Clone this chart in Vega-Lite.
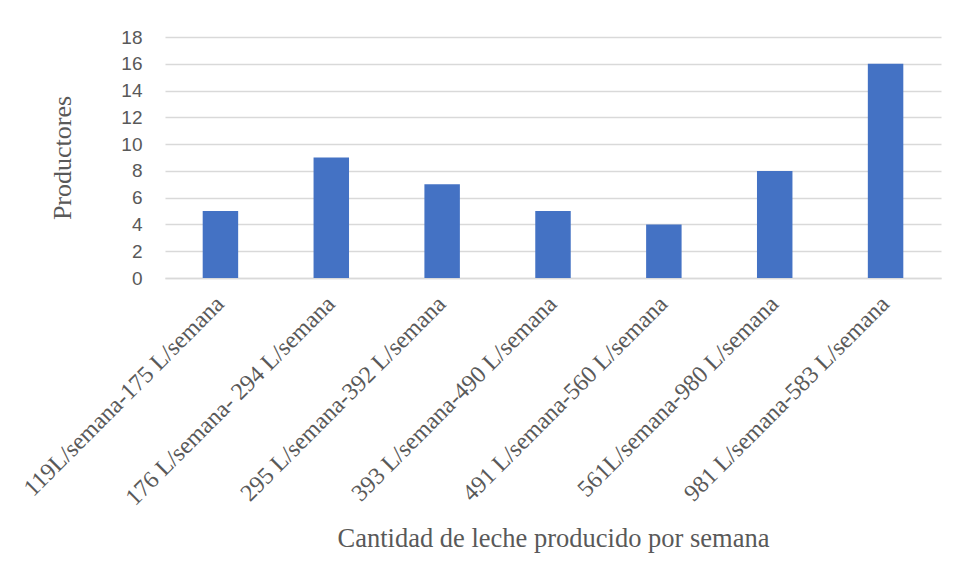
{
  "$schema": "https://vega.github.io/schema/vega-lite/v6.json",
  "width": 776,
  "height": 241,
  "autosize": "none",
  "padding": {"left": 165, "top": 37, "right": 16, "bottom": 300},
  "background": "#ffffff",
  "config": {"view": {"stroke": null}},
  "data": {
    "values": [
      {"rango": "119L/semana-175 L/semana", "productores": 5},
      {"rango": "176 L/semana- 294 L/semana", "productores": 9},
      {"rango": "295 L/semana-392 L/semana", "productores": 7},
      {"rango": "393 L/semana-490 L/semana", "productores": 5},
      {"rango": "491 L/semana-560 L/semana", "productores": 4},
      {"rango": "561L/semana-980 L/semana", "productores": 8},
      {"rango": "981 L/semana-583 L/semana", "productores": 16}
    ]
  },
  "mark": {"type": "bar", "color": "#4472C4"},
  "encoding": {
    "x": {
      "field": "rango",
      "type": "nominal",
      "sort": null,
      "scale": {"paddingInner": 0.68, "paddingOuter": 0.34},
      "axis": {
        "title": "Cantidad de leche producido por semana",
        "titleFont": "Liberation Serif",
        "titleFontSize": 26.5,
        "titleFontWeight": "normal",
        "titleColor": "#595959",
        "titlePadding": 47,
        "labelFont": "Liberation Serif",
        "labelFontSize": 24,
        "labelColor": "#595959",
        "labelAngle": -45,
        "labelAlign": "right",
        "labelBaseline": "middle",
        "labelPadding": 22,
        "labelLimit": 400,
        "ticks": false,
        "domainColor": "#d9d9d9",
        "domainWidth": 1.5
      }
    },
    "y": {
      "field": "productores",
      "type": "quantitative",
      "scale": {"domain": [0, 18], "nice": false},
      "axis": {
        "title": "Productores",
        "titleFont": "Liberation Serif",
        "titleFontSize": 26,
        "titleFontWeight": "normal",
        "titleColor": "#595959",
        "titlePadding": 45,
        "values": [0, 2, 4, 6, 8, 10, 12, 14, 16, 18],
        "labelFont": "Liberation Sans",
        "labelFontSize": 19,
        "labelColor": "#595959",
        "labelPadding": 23,
        "ticks": false,
        "domain": false,
        "gridColor": "#d9d9d9",
        "gridWidth": 1.5
      }
    }
  }
}
